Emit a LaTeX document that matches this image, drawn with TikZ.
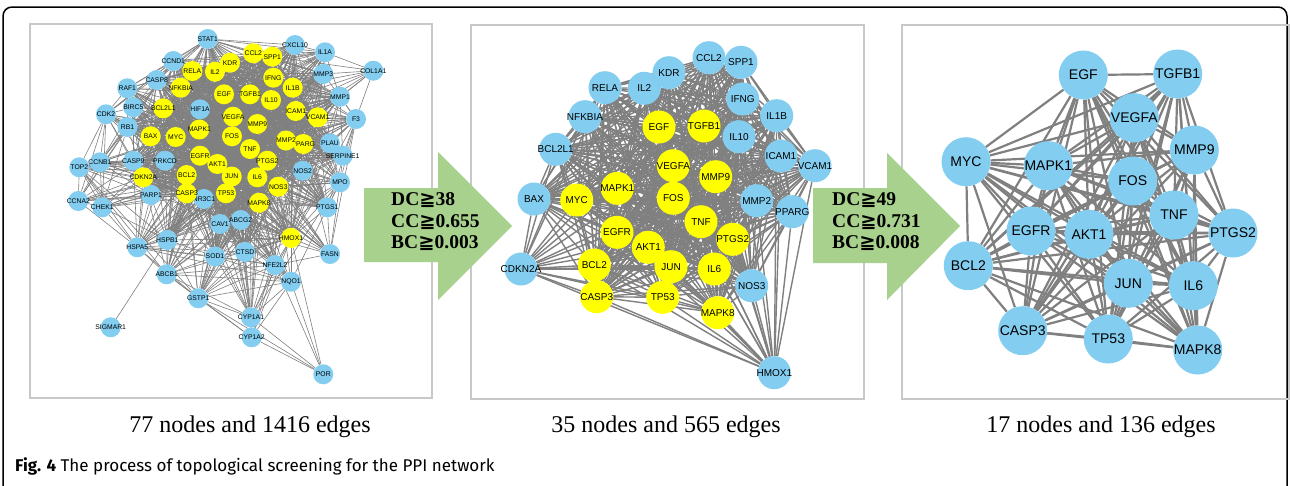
\documentclass[tikz,border=0pt]{standalone}
\usepackage{fontspec}
\setmainfont{Liberation Serif}
\newfontfamily\labelfont{Liberation Sans}
\newfontfamily\symfont{DejaVu Sans}
\newfontfamily\capfont{Fira Sans}
\pgfdeclarelayer{bg}
\pgfsetlayers{bg,main}

\definecolor{nodeblue}{RGB}{130,205,240}
\definecolor{nodeyellow}{RGB}{255,255,0}
\definecolor{edgegray}{RGB}{128,128,128}
\definecolor{framegray}{RGB}{200,200,200}
\definecolor{arrowgreen}{RGB}{169,209,142}

% the 33 core genes shared by the first two networks (CDKN2A and HMOX1 handled apart)
\def\ycore{RELA,IL2,KDR,CCL2,SPP1,IFNG,IL1B,EGF,TGFB1,IL10,NFKBIA,BCL2L1,BAX,MYC,MAPK1,VEGFA,FOS,MMP9,ICAM1,VCAM1,MMP2,PPARG,TNF,PTGS2,EGFR,AKT1,JUN,IL6,NOS3,BCL2,CASP3,TP53,MAPK8}
\def\yall{RELA,IL2,KDR,CCL2,SPP1,IFNG,IL1B,EGF,TGFB1,IL10,NFKBIA,BCL2L1,BAX,MYC,MAPK1,VEGFA,FOS,MMP9,ICAM1,VCAM1,MMP2,PPARG,TNF,PTGS2,EGFR,AKT1,JUN,IL6,NOS3,BCL2,CASP3,TP53,MAPK8,CDKN2A,HMOX1}
\def\hubgenes{EGF,TGFB1,VEGFA,MMP9,MYC,MAPK1,FOS,TNF,PTGS2,EGFR,AKT1,BCL2,JUN,IL6,CASP3,TP53,MAPK8}

% edges among the 35 core genes, prefix #1, edge style #2
\newcommand\coreedges[2]{%
  \foreach \u [count=\i] in \ycore {%
    \foreach \v [count=\j] in \ycore {%
      \ifnum\j>\i \draw[#2] (#1-\u) -- (#1-\v);\fi}}%
  \foreach \v in {BAX,BCL2L1,MYC,MAPK1,EGFR,BCL2,CASP3,TP53,AKT1,JUN,NFKBIA,RELA,EGF,VEGFA,FOS,TNF,IL6,MAPK8,HMOX1}
    {\draw[#2] (#1-CDKN2A) -- (#1-\v);}%
  \foreach \v in {CASP3,BCL2,TP53,MAPK8,NOS3,PPARG,VCAM1,ICAM1,MMP2,IL6,PTGS2,JUN,TNF,AKT1,EGFR,IL1B,MMP9,FOS,VEGFA,IL10}
    {\draw[#2] (#1-HMOX1) -- (#1-\v);}%
}

\tikzset{
  n1/.style={circle,minimum size=20pt,inner sep=0pt},
  n2/.style={circle,minimum size=33pt,inner sep=0pt},
  n3/.style={circle,minimum size=49pt,inner sep=0pt,fill=nodeblue},
  l1/.style={inner sep=0pt,font=\labelfont\fontsize{6.8}{7}\selectfont},
  l2/.style={inner sep=0pt,font=\labelfont\fontsize{10}{11}\selectfont},
  l3/.style={inner sep=0pt,font=\labelfont\fontsize{14}{15}\selectfont},
  e1/.style={draw=edgegray,line width=0.6pt},
  e2/.style={draw=edgegray,line width=1.4pt},
  e3/.style={draw=edgegray,line width=2.2pt},
  panel/.style={draw=framegray,line width=1.2pt},
  blockarrow/.style={fill=arrowgreen,draw=none},
  crit/.style={anchor=west,align=left,inner sep=0pt,font=\bfseries\fontsize{19.5}{21.5}\selectfont},
  count/.style={font=\fontsize{24}{26}\selectfont},
}

\begin{document}
\begin{tikzpicture}[x=1pt,y=-1pt]
\useasboundingbox (0,0) rectangle (1292,485);
\begin{pgfonlayer}{bg}
  \fill[white] (0,0) rectangle (1292,485);
\end{pgfonlayer}

% outer frame of the figure
\draw[black,line width=1.5pt,rounded corners=9pt] (3,7) rectangle (1287,495);

% panel frames
\draw[panel] (30,24) rectangle (432,398);
\draw[panel] (471,25) rectangle (864,399);
\draw[panel] (902,25) rectangle (1289,399);

% ---------------- network with 77 nodes ----------------
\foreach \nm/\x/\y in {STAT1/207.7/39, CXCL10/295/45, IL1A/325/52.3, COL1A1/373.3/70.7,
  CCND1/173.3/61, CASP8/156.7/80, RAF1/127.3/88.3, MMP3/323.3/74, MMP1/340/96.7,
  BIRC5/133.3/107.3, HIF1A/200/109.3, CDK2/106/114.3, RB1/127.5/127, F3/356/119,
  PLAU/330/143.3, SERPINE1/342.7/155.7, TOP2/79.3/167.3, CCNB1/100/162.3,
  CASP9/133.3/160.7, PRKCD/165/160.7, NOS2/302.7/170.7, MPO/340/182.3,
  CCNA2/78.3/201, CHEK1/102.3/207.3, PARP1/151/195, NR3C1/204/199, PTGS1/327.3/207.3,
  CAV1/220/224, ABCG2/240.7/220, HSPA5/137.3/247.3, HSPB1/167.3/240, SOD1/215/256.5,
  CTSD/245/252, FASN/330/254, ABCB1/166.7/274.3, NFE2L2/275/265, NQO1/291/281.7,
  GSTP1/198.3/298.3, SIGMAR1/110.7/327.3, CYP1A1/251/317.3, CYP1A2/251.7/337.3,
  POR/323.3/374.3}
  \node[n1,fill=nodeblue,label={[l1]center:\nm}] (a-\nm) at (\x,\y) {};
\foreach \nm/\x/\y in {RELA/192.3/71, IL2/215/71.7, KDR/230/62.7, CCL2/253.3/53.3,
  SPP1/272.3/56.7, IFNG/273.3/77.7, IL1B/292.7/87.7, EGF/224/94.3, TGFB1/250/94.3,
  IL10/271/100, NFKBIA/180.7/87.7, BCL2L1/163.3/108.3, BAX/150.7/136.3, MYC/175.7/137,
  MAPK1/199.3/129.5, VEGFA/233/116.7, FOS/232/136.3, MMP9/257.3/124, ICAM1/295.7/111,
  VCAM1/317.7/117.3, PPARG/303.3/144, MMP2/286/140.5, TNF/250/149, PTGS2/267.3/160.7,
  EGFR/200/155.7, AKT1/217.3/164, JUN/231.7/176.5, IL6/257.3/177.3, NOS3/278.3/186.7,
  BCL2/186.7/175, CASP3/186.7/193.3, TP53/226/193.3, MAPK8/259/202.7,
  CDKN2A/143.3/177.3, HMOX1/291/238}
  \node[n1,fill=nodeyellow,label={[l1]center:\nm}] (a-\nm) at (\x,\y) {};

\begin{pgfonlayer}{bg}
  \coreedges{a}{e1}
  \foreach \h in {STAT1,CCND1,CASP8,HIF1A,RB1,CASP9,PRKCD,PARP1,NR3C1,CAV1,ABCG2,
      CXCL10,MMP3,MMP1,PLAU,SERPINE1,NOS2,PTGS1,HSPB1,SOD1,CTSD}
    {\foreach \v in \yall {\draw[e1] (a-\h) -- (a-\v);}}
  \foreach \s/\lst in {
    RAF1/{MAPK1,MAPK8,AKT1,MYC,EGFR,BCL2,TP53,JUN,FOS,VEGFA,EGF,TNF,IL6,CASP3,RELA,NFKBIA,BCL2L1,BAX,CDKN2A,STAT1,CCND1,CASP8,CDK2,RB1},
    BIRC5/{CASP3,CASP9,CASP8,TP53,AKT1,BCL2,BAX,BCL2L1,MYC,EGFR,VEGFA,MAPK1,CDK2,CCNB1,CDKN2A,JUN,RB1,TNF,IL6,STAT1},
    CDK2/{CCND1,RB1,CCNB1,CCNA2,CHEK1,TOP2,CDKN2A,TP53,MYC,AKT1,MAPK1,JUN,FOS,EGFR,CASP3,BAX,BCL2,PARP1,STAT1},
    TOP2/{CCNB1,CCNA2,CHEK1,TP53,BCL2,CASP3,PARP1,MYC,AKT1,HSPA5,HSPB1,ABCB1,GSTP1,CDKN2A,JUN,EGFR,CASP9},
    CCNB1/{CCNA2,CHEK1,TP53,MYC,AKT1,CDKN2A,CASP3,BCL2,JUN,MAPK1,EGFR,RB1,CCND1,PARP1,CASP9},
    CCNA2/{CHEK1,TP53,MYC,CDKN2A,CCND1,RB1,BCL2,CASP3,AKT1,JUN,HSPA5,PARP1},
    CHEK1/{TP53,MYC,CDKN2A,PARP1,BCL2,CASP3,AKT1,HSPA5,HSPB1,JUN,RB1},
    HSPA5/{CASP3,AKT1,TP53,BCL2,JUN,HSPB1,MAPK8,EGFR,VEGFA,TNF,IL6,CAV1,SOD1,HMOX1,NQO1,GSTP1,ABCB1,CDKN2A,PARP1,MAPK1,MYC,BAX,CASP9,NFE2L2,CTSD},
    IL1A/{TNF,IL6,IL1B,IL10,IFNG,CCL2,CXCL10,ICAM1,VCAM1,MMP3,MMP1,MMP9,MMP2,PTGS2,NOS2,VEGFA,RELA,NFKBIA,IL2,COL1A1,STAT1,SPP1,TGFB1,EGF,MAPK1,MAPK8,AKT1,JUN,FOS},
    COL1A1/{MMP1,MMP3,MMP2,MMP9,TGFB1,VEGFA,F3,SPP1,TNF},
    F3/{TNF,IL6,VEGFA,ICAM1,VCAM1,PLAU,SERPINE1,MMP1,MMP9,MMP2,TGFB1,EGF,AKT1,JUN,FOS,PTGS2,NOS3,NOS2,HMOX1,MPO,IL1B,CCL2,PTGS1,FASN,EGFR,TP53,MAPK1},
    MPO/{TNF,IL6,IL1B,IL10,NOS2,NOS3,HMOX1,PTGS2,PTGS1,SOD1,ICAM1,VCAM1,MMP9,MMP2,PPARG,CCL2,SERPINE1,PLAU,AKT1,TP53,CASP3,NQO1,GSTP1,FASN,CYP1A1},
    FASN/{PPARG,AKT1,EGFR,TP53,MYC,VEGFA,MAPK1,JUN,IL6,TNF,HMOX1,PTGS2,NOS3,PTGS1,NFE2L2,CAV1},
    ABCB1/{ABCG2,GSTP1,CYP1A1,CYP1A2,NQO1,HMOX1,NFE2L2,TP53,MYC,BCL2,CASP3,AKT1,EGFR,MAPK1,MAPK8,JUN,HSPB1,SOD1,NR3C1,CAV1,PPARG,CDKN2A},
    GSTP1/{CYP1A1,CYP1A2,NQO1,NFE2L2,HMOX1,SOD1,ABCG2,TP53,JUN,MAPK8,CASP3,BCL2,AKT1,TNF,IL6,PTGS2,NOS3,POR,CTSD,CAV1,HSPB1},
    NFE2L2/{HMOX1,NQO1,CYP1A1,CYP1A2,SOD1,AKT1,TP53,JUN,MAPK8,MAPK1,NOS3,PTGS2,TNF,IL6,BCL2,CASP3,PPARG,ABCG2,POR,CAV1},
    NQO1/{HMOX1,CYP1A1,CYP1A2,SOD1,POR,TP53,AKT1,JUN,CASP3,BCL2,MAPK8,ABCG2,CTSD,NOS3},
    CYP1A1/{CYP1A2,HMOX1,ABCG2,POR,TP53,AKT1,JUN,PTGS2,TNF,IL6,MAPK8,CASP3,BCL2,PPARG,SOD1,CTSD,CAV1},
    CYP1A2/{HMOX1,PPARG,TP53,ABCG2,POR},
    POR/{HMOX1},
    SIGMAR1/{HSPB1},
    STAT1/{CCND1,CASP8,CXCL10,HIF1A,MMP1,MMP3},
    CXCL10/{MMP3},
    MMP3/{MMP1},
    MMP1/{F3,PLAU,SERPINE1},
    PLAU/{SERPINE1,MMP3},
    PTGS1/{NOS2},
    CCND1/{CDK2,RB1,CASP8},
    CASP8/{CASP9},
    CASP9/{PARP1},
    RB1/{CCNB1},
    HSPB1/{SOD1},
    SOD1/{CTSD},
    CAV1/{ABCG2},
    HIF1A/{CAV1}}
    {\foreach \t in \lst {\draw[e1] (a-\s) -- (a-\t);}}
\end{pgfonlayer}

% ---------------- network with 35 nodes ----------------
\foreach \nm/\x/\y in {CCL2/709/57.7, SPP1/741/62.3, KDR/669/72.7, IL2/644.3/88.3,
  RELA/605/87.7, IFNG/742.7/99, IL1B/776.7/115.7, NFKBIA/585/116.7, IL10/739/136.7,
  BCL2L1/555.7/149.3, ICAM1/781/156, VCAM1/815/165.7, BAX/534/199, MMP2/756.7/200.7,
  PPARG/792.3/211.7, CDKN2A/521/269, NOS3/751.7/285.7, HMOX1/774.3/372.7}
  \node[n2,fill=nodeblue,label={[l2]center:\nm}] (b-\nm) at (\x,\y) {};
\foreach \nm/\x/\y in {EGF/659/127, TGFB1/704/126, VEGFA/673.3/165.7, MMP9/715.7/176.7,
  MAPK1/617.3/188.3, MYC/576.7/200, FOS/673.3/198.3, TNF/701/221.7, PTGS2/732.7/239.3,
  EGFR/617/232.3, AKT1/648.3/247.3, BCL2/594.3/265, JUN/671/266.7, IL6/714.3/269,
  CASP3/596.7/296.7, TP53/662.7/297.3, MAPK8/717.7/312.7}
  \node[n2,fill=nodeyellow,label={[l2]center:\nm}] (b-\nm) at (\x,\y) {};

\begin{pgfonlayer}{bg}
  \coreedges{b}{e2}
\end{pgfonlayer}

% ---------------- network with 17 nodes ----------------
\foreach \nm/\x/\y in {EGF/1083.3/75, TGFB1/1177.7/74, VEGFA/1134.3/117.7,
  MMP9/1194.3/150, MYC/966/161.7, MAPK1/1048.3/165.7, FOS/1132.7/181, TNF/1174/215,
  PTGS2/1233/233, EGFR/1031/231, AKT1/1089/234.3, BCL2/968.3/265.7, JUN/1128.3/283.3,
  IL6/1193.3/285.7, CASP3/1022.7/330.7, TP53/1108.3/339, MAPK8/1197.7/350}
  \node[n3,label={[l3]center:\nm}] (c-\nm) at (\x,\y) {};

\begin{pgfonlayer}{bg}
  \foreach \u [count=\i] in \hubgenes {%
    \foreach \v [count=\j] in \hubgenes {%
      \ifnum\j>\i \draw[e3] (c-\u) -- (c-\v);\fi}}
\end{pgfonlayer}

% ---------------- screening arrows ----------------
\fill[blockarrow] (364,188) -- (438,188) -- (438,152) -- (512,226) -- (438,300)
  -- (438,262) -- (364,262) -- cycle;
\node[crit] (crit1) at (391,222)
  {DC{\symfont ≧}38\\CC{\symfont ≧}0.655\\BC{\symfont ≧}0.003};
\fill[blockarrow] (813,188) -- (887,188) -- (887,153) -- (960,226) -- (887,300)
  -- (887,263) -- (813,263) -- cycle;
\node[crit] (crit2) at (832,222)
  {DC{\symfont ≧}49\\CC{\symfont ≧}0.731\\BC{\symfont ≧}0.008};

% ---------------- counts and caption ----------------
\node[count] (cnt1) at (250,427) {77 nodes and 1416 edges};
\node[count] (cnt2) at (666,427) {35 nodes and 565 edges};
\node[count] (cnt3) at (1101,427) {17 nodes and 136 edges};
\node[anchor=west,inner sep=0pt,font=\capfont\fontsize{17}{19}\selectfont] (cap) at (15,466)
  {\textbf{Fig. 4} The process of topological screening for the PPI network};
\end{tikzpicture}
\end{document}
